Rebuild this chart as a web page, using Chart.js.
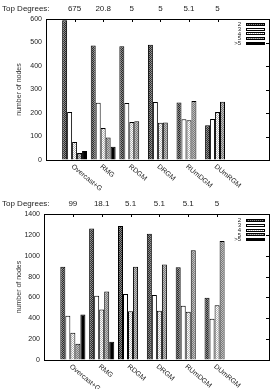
<!DOCTYPE html>
<html><head><meta charset="utf-8">
<script src="https://cdn.jsdelivr.net/npm/chart.js@4.4.1/dist/chart.umd.min.js"></script>
<style>
html,body{margin:0;padding:0;background:#fff;overflow:hidden;}
.w{position:absolute;left:0;width:276px;}
</style></head><body>
<div class="w" style="top:0;height:195px"><canvas id="c1"></canvas></div>
<div class="w" style="top:195px;height:194px"><canvas id="c2"></canvas></div>
<script>
const categories = ['Overcast+G','RMG','RDGM','DRGM','RUmDGM','DUmRGM'];
const seriesLabels = ['2','3','4','5','>5'];
const topDegrees1 = ['675','20.8','5','5','5.1','5'];
const topDegrees2 = ['99','18.1','5.1','5.1','5.1','5'];

// chart 1 (upper)
const c1Deg2 = [595,487,484,490,245,148];
const c1Deg3 = [204,244,243,247,173,174];
const c1Deg4 = [77,136,162,158,169,204];
const c1Deg5 = [30,96,165,160,251,248];
const c1DegMore = [38,56,0,0,0,0];
const c1YMax = 600, c1YStep = 100;

// chart 2 (lower)
const c2Deg2 = [893,1262,1284,1210,890,598];
const c2Deg3 = [425,617,633,623,520,395];
const c2Deg4 = [261,484,468,472,463,525];
const c2Deg5 = [155,658,893,915,1052,1140];
const c2DegMore = [436,176,0,0,0,0];
const c2YMax = 1400, c2YStep = 200;

const FONT = '"Liberation Sans", Arial, Helvetica, sans-serif';

function tile(ctx, cells, n) {
  const c = document.createElement('canvas'); c.width = n; c.height = n;
  const g = c.getContext('2d');
  for (let j = 0; j < n; j++) for (let i = 0; i < n; i++) {
    g.fillStyle = cells[j][i]; g.fillRect(i, j, 1, 1);
  }
  return ctx.createPattern(c, 'repeat');
}
function fills(ctx) {
  return [
    tile(ctx, [['#2a2a2a','#8c8c8c'],['#8c8c8c','#2a2a2a']], 2),
    '#ffffff',
    tile(ctx, [['#ffffff','#b4b4b4'],['#b4b4b4','#ffffff']], 2),
    tile(ctx, [['#7a7a7a','#bdbdbd'],['#bdbdbd','#7a7a7a']], 2),
    '#000000'
  ];
}

const gnuPlugin = {
  id: 'gnu',
  afterDraw(chart, args, opts) {
    const {ctx, chartArea: a, scales} = chart;
    const x = scales.x, y = scales.y;
    ctx.save();
    ctx.strokeStyle = '#000'; ctx.lineWidth = 1;
    ctx.beginPath();
    categories.forEach((c, i) => {
      const px = Math.round(x.getPixelForValue(i)) + 0.5;
      ctx.moveTo(px, a.top); ctx.lineTo(px, a.top + 3);
    });
    y.ticks.forEach(t => {
      const py = Math.round(y.getPixelForValue(t.value)) + 0.5;
      ctx.moveTo(a.right, py); ctx.lineTo(a.right - 3, py);
    });
    ctx.stroke();
    ctx.fillStyle = '#222';
    ctx.font = '8px ' + FONT;
    ctx.textAlign = 'left'; ctx.textBaseline = 'middle';
    ctx.fillText('Top Degrees:', opts.titleX, opts.titleY);
    ctx.font = '7px ' + FONT;
    categories.forEach((c, i) => {
      const px = x.getPixelForValue(i);
      ctx.save();
      ctx.translate(px, a.bottom + 3);
      ctx.rotate(40 * Math.PI / 180);
      ctx.textAlign = 'left'; ctx.textBaseline = 'top';
      ctx.fillText(c, 0, 0);
      ctx.restore();
    });
    // legend
    ctx.font = '6px ' + FONT;
    ctx.textAlign = 'right'; ctx.textBaseline = 'middle';
    chart.data.datasets.forEach((ds, k) => {
      const cy = opts.legendTop + k * 4.8;
      ctx.fillStyle = '#222';
      ctx.fillText(ds.label, a.right - 28, cy);
      ctx.fillStyle = ds.backgroundColor;
      ctx.fillRect(a.right - 23, Math.round(cy - 1.5), 19, 3);
      ctx.strokeStyle = '#000';
      ctx.strokeRect(a.right - 23 + 0.5, Math.round(cy - 1.5) + 0.5, 18, 2);
    });
    ctx.restore();
  }
};

function makeChart(id, series, topDeg, yMax, yStep, bottomH, titleY, legendTop, leftW) {
  const canvas = document.getElementById(id);
  const ctx = canvas.getContext('2d');
  const f = fills(ctx);
  const datasets = series.map((vals, k) => ({
    label: seriesLabels[k],
    data: vals.map((v, i) => ({x: i, y: v})),
    backgroundColor: f[k],
    borderColor: '#000',
    borderWidth: 1,
    borderSkipped: 'start',
    categoryPercentage: 0.87,
    barPercentage: 1.0
  }));
  return new Chart(ctx, {
    type: 'bar',
    data: {datasets},
    plugins: [gnuPlugin],
    options: {
      responsive: true, maintainAspectRatio: false, animation: false, devicePixelRatio: 1,
      layout: {padding: 0},
      plugins: {legend: {display: false}, tooltip: {enabled: false},
        gnu: {titleX: 2, titleY, legendTop}},
      scales: {
        x: {type: 'linear', position: 'bottom', min: -1, max: 6.8, offset: false,
          ticks: {display: false},
          grid: {drawOnChartArea: false, drawTicks: false, offset: false},
          border: {display: true, color: '#000', width: 1},
          afterFit: s => { s.height = bottomH; }},
        x2: {type: 'linear', position: 'top', min: -1, max: 6.8, offset: false,
          afterBuildTicks: s => { s.ticks = categories.map((c, i) => ({value: i})); },
          ticks: {display: true, autoSkip: false, maxRotation: 0, padding: 5,
            color: '#222', font: {size: 8, family: FONT},
            callback: (v, i) => topDeg[i]},
          grid: {drawOnChartArea: false, drawTicks: false, offset: false},
          border: {display: true, color: '#000', width: 1},
          afterFit: s => { s.height = 19; }},
        y: {type: 'linear', position: 'left', min: 0, max: yMax,
          ticks: {stepSize: yStep, padding: 4, color: '#222', font: {size: 7, family: FONT},
            callback: v => String(v)},
          grid: {drawOnChartArea: false, drawTicks: false},
          border: {display: true, color: '#000', width: 1},
          title: {display: true, text: 'number of nodes', color: '#333',
            font: {size: 7, family: FONT}, padding: {top: 15, bottom: 0}},
          afterFit: s => { s.width = leftW; }},
        y2: {type: 'linear', position: 'right', min: 0, max: yMax,
          ticks: {display: false},
          grid: {drawOnChartArea: false, drawTicks: false},
          border: {display: true, color: '#000', width: 1},
          afterFit: s => { s.width = 7; }}
      }
    }
  });
}

makeChart('c1', [c1Deg2, c1Deg3, c1Deg4, c1Deg5, c1DegMore], topDegrees1, c1YMax, c1YStep, 35, 9, 24.3, 46);
makeChart('c2', [c2Deg2, c2Deg3, c2Deg4, c2Deg5, c2DegMore], topDegrees2, c2YMax, c2YStep, 29, 8.5, 25.5, 44);
</script>
</body></html>
